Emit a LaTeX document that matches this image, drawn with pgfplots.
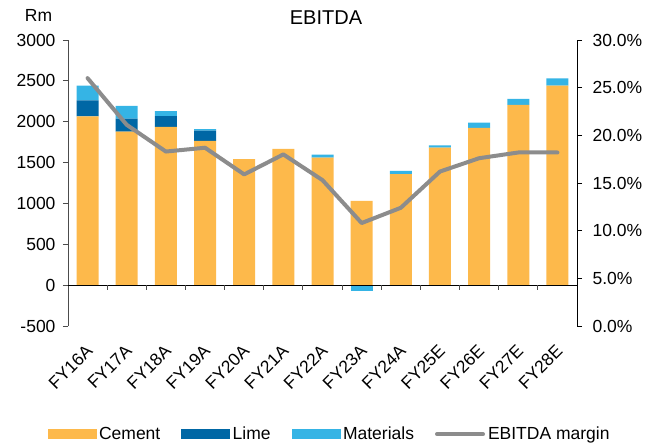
\documentclass[border=0pt]{standalone}
\usepackage{fontspec}
\setmainfont{Liberation Sans}
\usepackage{pgfplots}
\usepackage{pgfplotstable}
\pgfplotsset{compat=1.18}
\pgfplotsset{/pgf/number format/assume math mode=true}

\definecolor{cement}{HTML}{FDB94B}
\definecolor{lime}{HTML}{0067A5}
\definecolor{materials}{HTML}{35B4E5}
\definecolor{margin}{HTML}{8C8C8C}

% EBITDA by division, Rm (materials in FY23A is negative, drawn separately)
\pgfplotstableread{
x c l m
0 2064 196 183
1 1880 159 156
2 1938 130 62
3 1766 126 18
4 1542 0 0
5 1668 0 0
6 1562 0 36
7 1032 0 0
8 1359 0 40
9 1684 0 25
10 1925 0 65
11 2207 0 73
12 2443 0 86
}\ebitda

\begin{document}
\begin{tikzpicture}
\path[use as bounding box] (0,0) rectangle (658bp,446bp);
\pgfplotsset{
  base/.style={
    at={(68bp,120bp)}, anchor=south west,
    scale only axis, width=509bp, height=286bp,
    xmin=-0.5, xmax=12.5,
    tick label style={font=\fontsize{17.5bp}{20bp}\selectfont},
    /pgf/number format/1000 sep={},
  },
}
\begin{axis}[
  base,
  ymin=-500, ymax=3000,
  ytick={-500,0,...,3000},
  axis y line*=left,
  axis x line*=bottom,
  x axis line style={draw=none},
  y axis line style={black!70, line width=0.9bp},
  ytick style={black!70, line width=0.9bp},
  yticklabel style={xshift=-4bp},
  tick align=outside,
  major tick length=5bp,
  xtick={0,...,12},
  xtick style={draw=none},
  xticklabels={FY16A,FY17A,FY18A,FY19A,FY20A,FY21A,FY22A,FY23A,FY24A,FY25E,FY26E,FY27E,FY28E},
  xticklabel style={rotate=45, anchor=north east, inner sep=0pt, xshift=-10.5bp, yshift=-7bp},
  ybar stacked, bar width=22bp,
]
\addplot[fill=cement, draw=none] table[x=x, y=c] {\ebitda};
\addplot[fill=lime, draw=none] table[x=x, y=l] {\ebitda};
\addplot[fill=materials, draw=none] table[x=x, y=m] {\ebitda};
\end{axis}

\begin{axis}[
  base,
  ymin=-500, ymax=3000,
  hide axis,
  ybar, bar width=22bp,
]
\addplot[fill=materials, draw=none, bar shift=0pt] coordinates {(7,-66)};
\draw[black, line width=1bp] (axis cs:-0.5,0) -- (axis cs:12.5,0);
\pgfplotsinvokeforeach{0.5,1.5,2.5,3.5,4.5,5.5,6.5,7.5,8.5,9.5,10.5,11.5}{
  \draw[black!70, line width=0.9bp] (axis cs:#1,0) -- ++(0bp,-5bp);
}
\end{axis}

\begin{axis}[
  base,
  ymin=0, ymax=30,
  ytick={0,5,...,30},
  axis y line*=right,
  axis x line=none,
  y axis line style={black, line width=0.9bp},
  ytick style={black, line width=0.9bp},
  yticklabel style={xshift=7bp},
  tick align=outside,
  major tick length=5bp,
  yticklabel={\pgfmathprintnumber[fixed, fixed zerofill, precision=1]{\tick}\%},
  legend columns=4,
  legend style={at={(0.514,-0.378)}, anchor=center, draw=none, fill=none,
    font=\fontsize{17.5bp}{20bp}\selectfont,
    /tikz/every odd column/.append style={column sep=1bp},
    /tikz/every even column/.append style={column sep=19bp},
    inner sep=0pt},
]
\addlegendimage{legend image code/.code={\fill[cement] (0bp,-4.5bp) rectangle (48bp,4.5bp);}}
\addlegendentry{Cement}
\addlegendimage{legend image code/.code={\fill[lime] (0bp,-4.5bp) rectangle (48bp,4.5bp);}}
\addlegendentry{Lime}
\addlegendimage{legend image code/.code={\fill[materials] (0bp,-4.5bp) rectangle (48bp,4.5bp);}}
\addlegendentry{Materials}
\addplot[color=margin, line width=4bp, line join=round, line cap=round, mark=none,
  legend image code/.code={\draw[color=margin, line width=4bp, line cap=round] (2bp,0bp) -- (48bp,0bp);}]
coordinates {(0,26.0) (1,21.1) (2,18.3) (3,18.7) (4,15.9) (5,18.0) (6,15.3) (7,10.8) (8,12.4) (9,16.2) (10,17.6) (11,18.2) (12,18.2)};
\addlegendentry{EBITDA margin}
\end{axis}

\node[font=\fontsize{20bp}{24bp}\selectfont] at (326bp,428bp) {EBITDA};
\node[font=\fontsize{17.5bp}{20bp}\selectfont] at (38.5bp,431bp) {Rm};
\end{tikzpicture}
\end{document}
